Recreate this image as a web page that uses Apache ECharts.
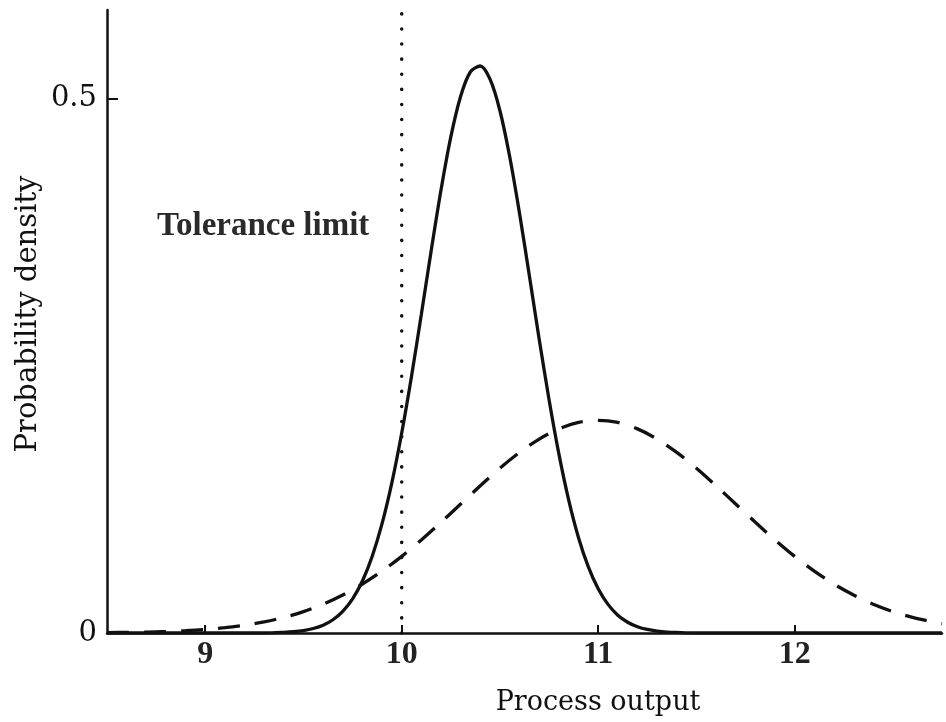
<!DOCTYPE html>
<html>
<head>
<meta charset="utf-8">
<script src="https://cdn.jsdelivr.net/npm/echarts@6/dist/echarts.min.js"></script>
<style>html,body{margin:0;padding:0;background:#fff;}#c{width:946px;height:722px;}</style>
</head>
<body>
<div id="c"></div>
<script>
// Process output values (x) and densities
const solidX = [8.5, 9.0, 9.3, 9.40, 9.45, 9.50, 9.55, 9.60, 9.65, 9.70, 9.75, 9.80, 9.85, 9.90, 9.95,
  10.00, 10.05, 10.10, 10.15, 10.20, 10.25, 10.30, 10.35, 10.40, 10.45, 10.50, 10.55, 10.60, 10.65,
  10.70, 10.75, 10.80, 10.85, 10.90, 10.95, 11.00, 11.05, 11.10, 11.15, 11.20, 11.25, 11.30, 11.35,
  11.40, 11.5, 12.0, 12.75];
const solidY = [0, 0, 0, 0.0006, 0.0012, 0.0023, 0.0042, 0.0073, 0.0124, 0.0203, 0.0320, 0.0487, 0.0719, 0.1023, 0.1407,
  0.1871, 0.2403, 0.2982, 0.3577, 0.4145, 0.4642, 0.5023, 0.5252, 0.5306, 0.5180, 0.4887, 0.4454, 0.3924, 0.3340,
  0.2747, 0.2183, 0.1676, 0.1244, 0.0892, 0.0618, 0.0414, 0.0268, 0.0167, 0.0101, 0.0059, 0.0033, 0.0018, 0.0009,
  0.0005, 0, 0, 0];

const dashedX = [8.5, 8.6, 8.7, 8.8, 8.9, 9.0, 9.1, 9.2, 9.3, 9.4, 9.5, 9.6, 9.7, 9.8, 9.9,
  10.0, 10.1, 10.2, 10.3, 10.4, 10.5, 10.6, 10.7, 10.8, 10.9, 11.0, 11.1, 11.2, 11.3, 11.4,
  11.5, 11.6, 11.7, 11.8, 11.9, 12.0, 12.1, 12.2, 12.3, 12.4, 12.5, 12.6, 12.7, 12.75];
const dashedY = [0.0003, 0.0006, 0.0009, 0.0014, 0.0022, 0.0034, 0.0050, 0.0073, 0.0104, 0.0146, 0.0200, 0.0269, 0.0355, 0.0458, 0.0579,
  0.0717, 0.0871, 0.1036, 0.1207, 0.1378, 0.1542, 0.1690, 0.1815, 0.1910, 0.1970, 0.1990, 0.1970, 0.1910, 0.1815, 0.1690,
  0.1542, 0.1378, 0.1207, 0.1036, 0.0871, 0.0717, 0.0579, 0.0458, 0.0355, 0.0269, 0.0200, 0.0146, 0.0104, 0.0087];

const toleranceX = [10, 10];
const toleranceY = [0, 0.583];

const xTicks = [9, 10, 11, 12];
const yTicks = [0, 0.5];
const yTickMarks = [0.5];

const zip = (a, b) => a.map((v, i) => [v, b[i]]);

const chart = echarts.init(document.getElementById('c'));
chart.setOption({
  backgroundColor: '#ffffff',
  animation: false,
  grid: { left: 107, right: 4, top: 10, bottom: 89 },
  xAxis: {
    type: 'value', min: 8.5, max: 12.75,
    axisLine: { lineStyle: { color: '#111', width: 2.5 } },
    axisTick: { inside: true, length: 8, lineStyle: { color: '#111', width: 2 }, customValues: xTicks },
    axisLabel: { customValues: xTicks, color: '#222', fontFamily: 'Liberation Serif', fontWeight: 'bold', fontSize: 32, margin: 6 },
    splitLine: { show: false }
  },
  yAxis: {
    type: 'value', min: 0, max: 0.583,
    axisLine: { show: true, lineStyle: { color: '#111', width: 2.5 } },
    axisTick: { show: true, inside: true, length: 11, lineStyle: { color: '#111', width: 2 }, customValues: yTickMarks },
    axisLabel: { customValues: yTicks, color: '#111', fontFamily: 'DejaVu Serif', fontSize: 29, margin: 10,
      formatter: v => (v === 0 ? '0' : String(v)) },
    splitLine: { show: false }
  },
  series: [
    {
      type: 'line', data: zip(toleranceX, toleranceY), showSymbol: false, silent: true,
      lineStyle: { color: '#111', width: 3.5, type: [0.1, 15], cap: 'round' }
    },
    {
      type: 'line', data: zip(dashedX, dashedY), showSymbol: false, smooth: 0.3,
      lineStyle: { color: '#111', width: 3.3, type: [22, 15] }
    },
    {
      type: 'line', data: zip(solidX, solidY), showSymbol: false, smooth: 0.3,
      lineStyle: { color: '#111', width: 3.3 }
    }
  ],
  graphic: [
    { type: 'text', left: 157, top: 210, style: { text: 'Tolerance limit', fill: '#2a2a2a', font: 'bold 33px "Liberation Serif"' } },
    { type: 'text', x: 598, y: 703, style: { text: 'Process output', fill: '#111', font: '27px "DejaVu Serif"', textAlign: 'center', textVerticalAlign: 'middle' } },
    { type: 'text', x: 28, y: 314, rotation: Math.PI / 2, style: { text: 'Probability density', fill: '#111', font: '29px "DejaVu Serif"', textAlign: 'center', textVerticalAlign: 'middle' } }
  ]
});
</script>
</body>
</html>
